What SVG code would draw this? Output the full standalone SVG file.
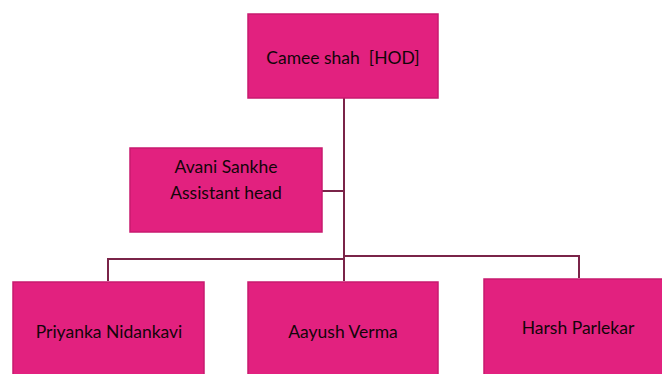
<svg xmlns="http://www.w3.org/2000/svg" width="662" height="374" viewBox="0 0 662 374">
<style>
.box{fill:#e2217f;stroke:#c81a6f;stroke-width:1.5}
.lbl{font-family:Lato,"Open Sans",sans-serif;font-size:17.5px;fill:#120509;text-anchor:middle;white-space:pre}
.conn{fill:none;stroke:#7a2448;stroke-width:2}
</style>
<rect width="662" height="374" fill="#ffffff"/>
<g id="connectors">
<path class="conn" d="M344 98 V281"/>
<path class="conn" d="M322 191 H344"/>
<path class="conn" d="M108 281 V259 H344"/>
<path class="conn" d="M344 256 H579 V278"/>
</g>
<g id="node-hod">
<rect class="box" x="248" y="14" width="190" height="84"/>
<text class="lbl" x="343" y="64" xml:space="preserve">Camee shah  [HOD]</text>
</g>
<g id="node-avani">
<rect class="box" x="130" y="148" width="192" height="84"/>
<text class="lbl" x="226" y="173">Avani Sankhe</text>
<text class="lbl" x="226" y="199">Assistant head</text>
</g>
<g id="node-priyanka">
<rect class="box" x="13" y="282" width="191" height="94"/>
<text class="lbl" x="109" y="338">Priyanka Nidankavi</text>
</g>
<g id="node-aayush">
<rect class="box" x="248" y="282" width="190" height="94"/>
<text class="lbl" x="343" y="338">Aayush Verma</text>
</g>
<g id="node-harsh">
<rect class="box" x="484" y="279" width="180" height="97"/>
<text class="lbl" x="578" y="334">Harsh Parlekar</text>
</g>
</svg>
